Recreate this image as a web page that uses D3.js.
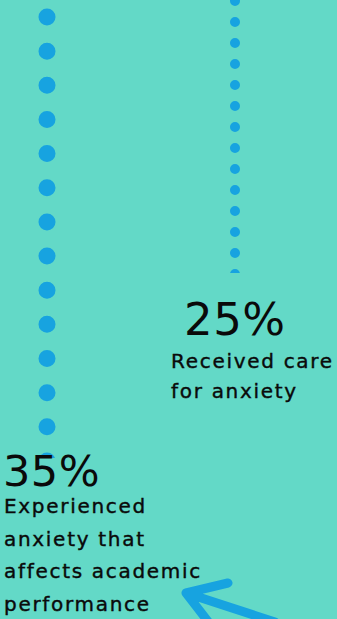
<!DOCTYPE html>
<html>
<head>
<meta charset="utf-8">
<script src="https://cdnjs.cloudflare.com/ajax/libs/d3/7.8.5/d3.min.js"></script>
<style>
  html, body { margin: 0; padding: 0; background: #63d9c7; overflow: hidden; }
  svg { display: block; }
  text { font-family: "DejaVu Sans", sans-serif; fill: #0a0a0a; }
</style>
</head>
<body>
<script>
// data
const categories = ["academic", "care"];
const values = [35, 25];
const valueLabels = ["35%", "25%"];
const captions = [
  ["Experienced", "anxiety that", "affects academic", "performance"],
  ["Received care", "for anxiety"]
];

const w = 337, h = 619;
const dotColor = "#17a3e0";

// how each dotted column looks
const dotRadius = [8.5, 5];
const dotGap = [34.15, 21];
const dotStart = [17, 1];

const svg = d3.select("body").append("svg")
  .attr("width", w)
  .attr("height", h);

svg.append("rect").attr("width", w).attr("height", h).attr("fill", "#63d9c7");

const xScale = d3.scalePoint()
  .domain(categories)
  .range([47, 235]);

// value -> where the dotted column stops
const yScale = d3.scaleLinear()
  .domain([25, 35])
  .range([273, 458]);

const defs = svg.append("defs");

categories.forEach(function(c, i){
  const end = yScale(values[i]);
  defs.append("clipPath").attr("id", "clip" + i)
    .append("rect")
    .attr("x", 0).attr("y", 0)
    .attr("width", w).attr("height", end);

  svg.append("line")
    .attr("clip-path", "url(#clip" + i + ")")
    .attr("x1", xScale(c)).attr("x2", xScale(c))
    .attr("y1", dotStart[i]).attr("y2", end + dotGap[i])
    .attr("stroke", dotColor)
    .attr("stroke-width", dotRadius[i] * 2)
    .attr("stroke-linecap", "round")
    .attr("stroke-dasharray", "0 " + dotGap[i]);
});

// labels
const bigX = [3, 184], bigY = [486, 335], bigSize = [43, 45];
const capX = [4, 171], capY = [513, 368], capGap = [32.5, 30];

valueLabels.forEach(function(t, i){
  svg.append("text")
    .attr("x", bigX[i]).attr("y", bigY[i])
    .style("font-size", bigSize[i] + "px")
    .style("letter-spacing", "0.5px")
    .text(t);

  svg.selectAll(".cap" + i)
    .data(captions[i])
    .enter()
    .append("text")
    .attr("class", "cap" + i)
    .attr("x", capX[i])
    .attr("y", (d, j) => capY[i] + j * capGap[i])
    .style("font-size", "20px")
    .style("letter-spacing", "1.7px")
    .style("stroke", "#0a0a0a")
    .style("stroke-width", 0.4)
    .text(d => d);
});

// arrow pointing at the left caption
const arrow = d3.path();
arrow.moveTo(275, 622);
arrow.lineTo(186, 593);
arrow.lineTo(228, 583);
arrow.moveTo(186, 593);
arrow.lineTo(210, 624);

svg.append("path")
  .attr("d", arrow.toString())
  .attr("fill", "none")
  .attr("stroke", dotColor)
  .attr("stroke-width", 9)
  .attr("stroke-linecap", "round")
  .attr("stroke-linejoin", "round");
</script>
</body>
</html>
